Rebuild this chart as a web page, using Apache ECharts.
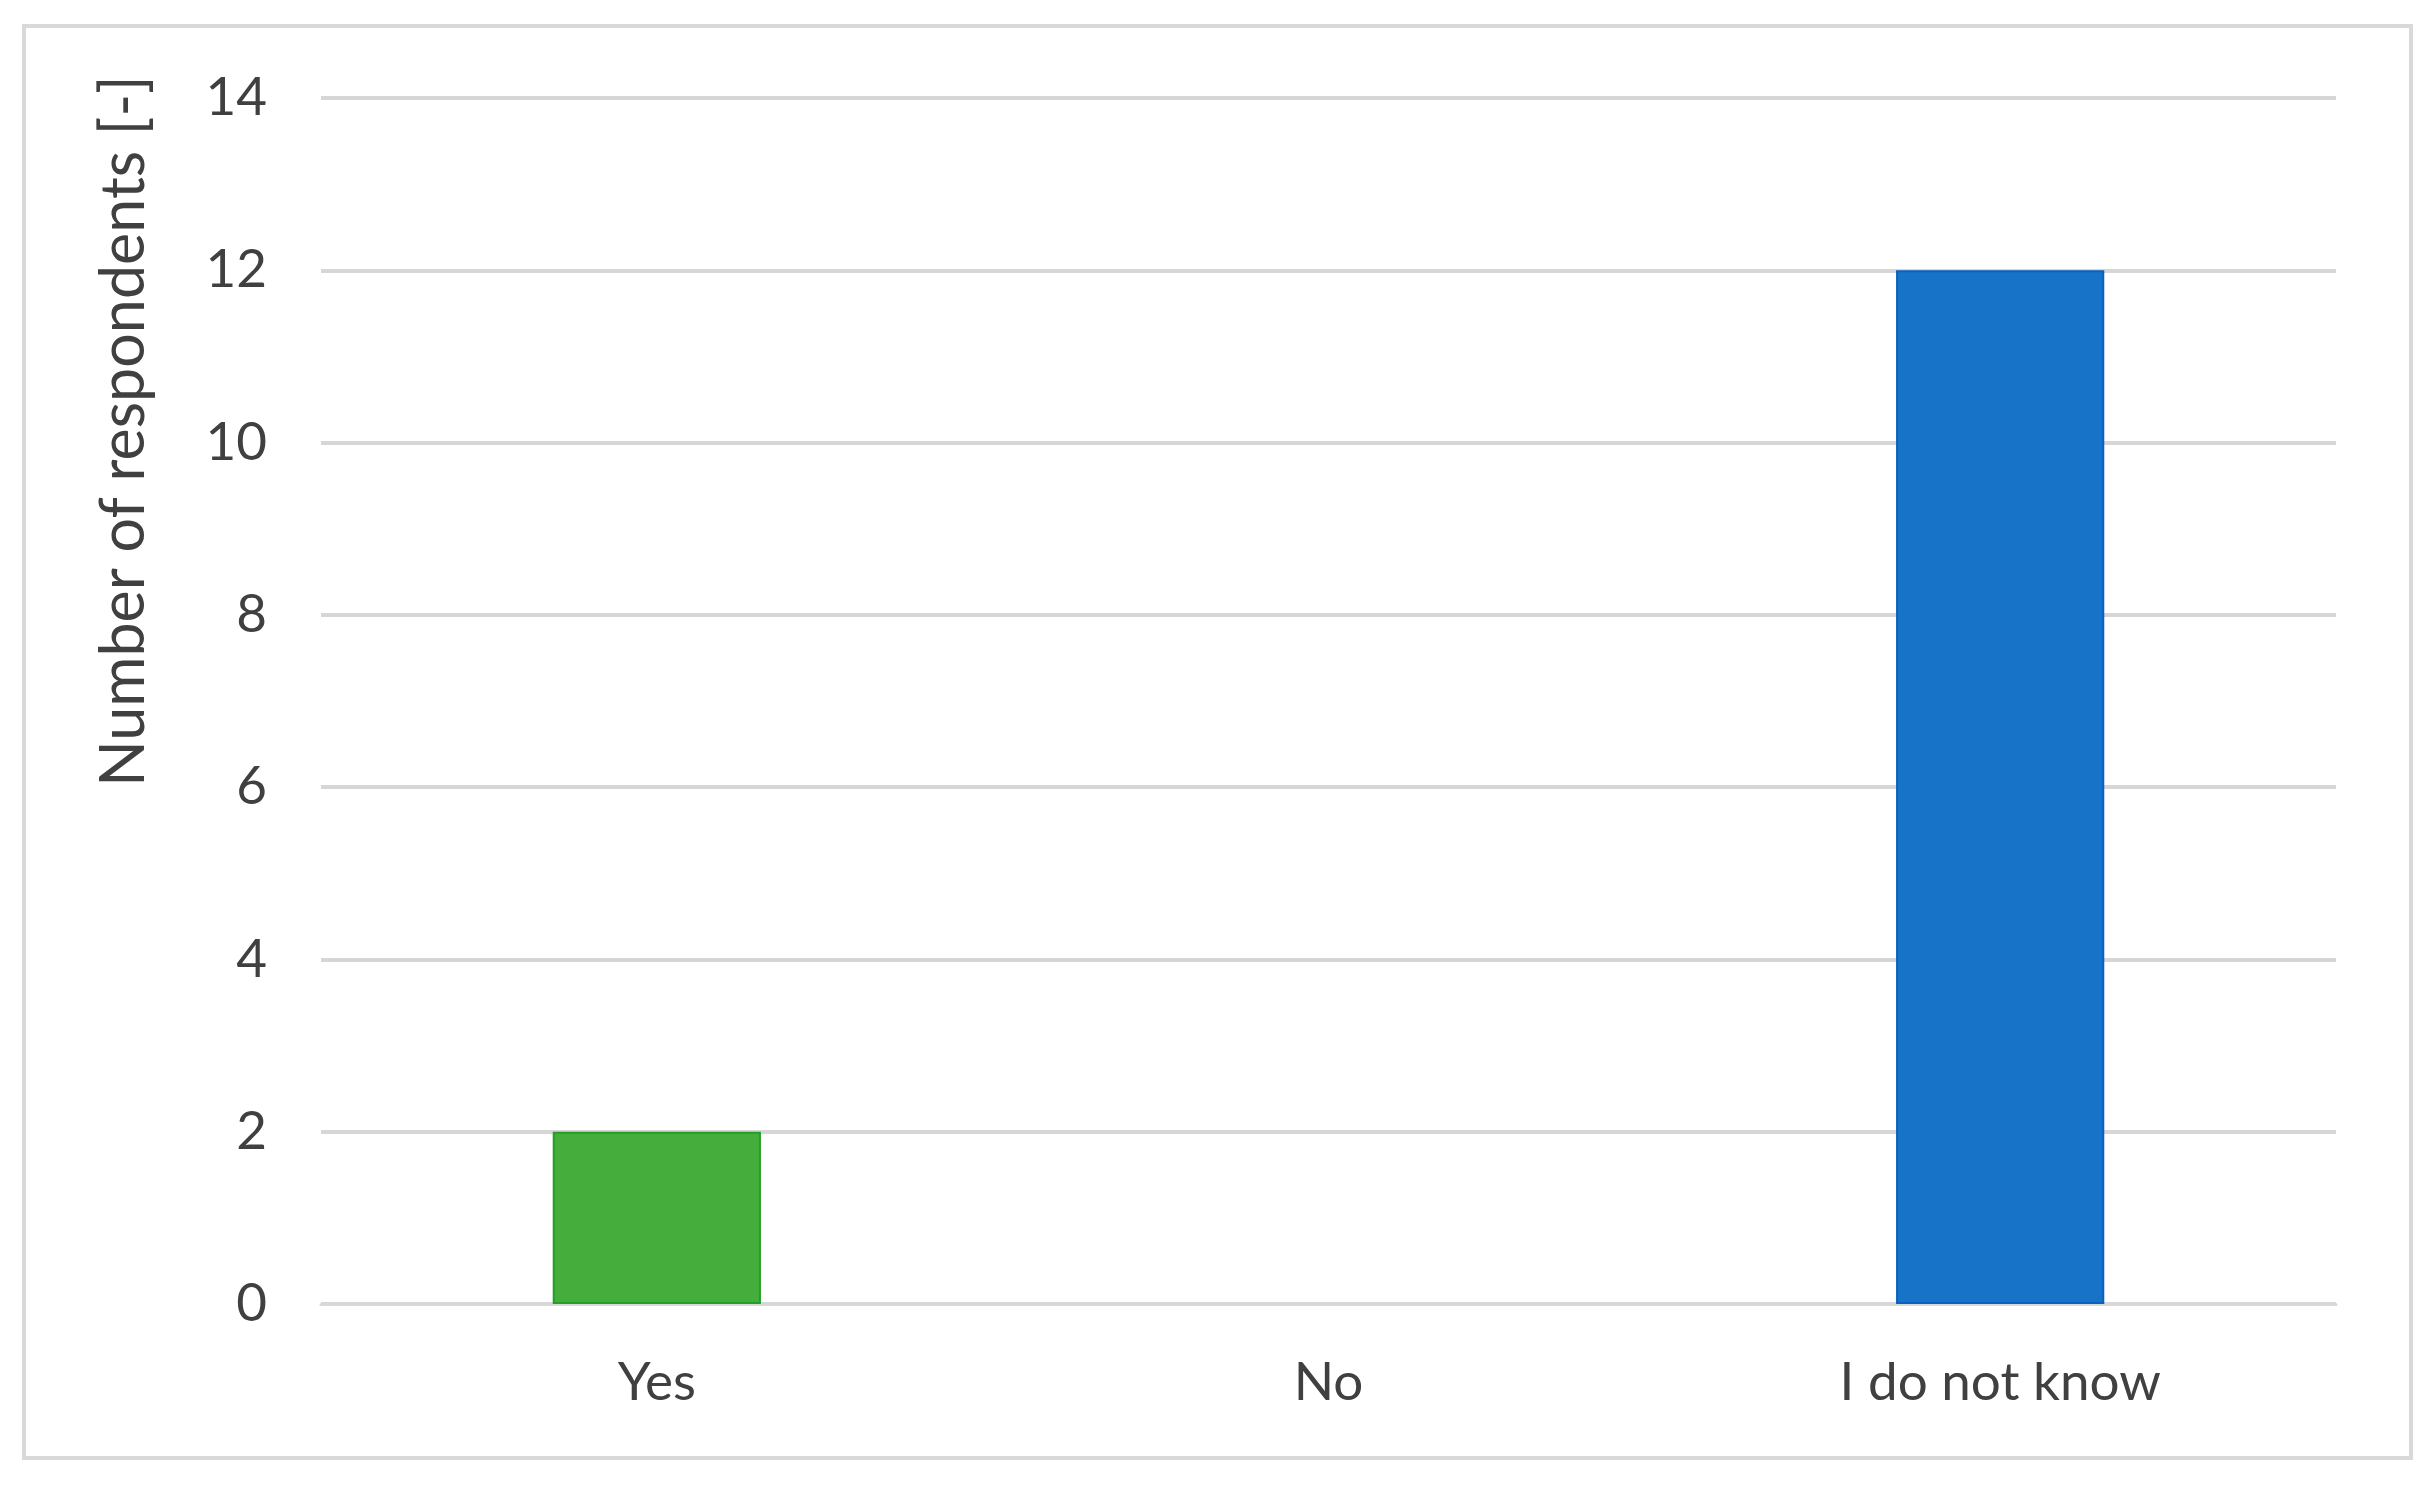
<!DOCTYPE html>
<html>
<head>
<meta charset="utf-8">
<script src="https://cdn.jsdelivr.net/npm/echarts@6/dist/echarts.min.js"></script>
<style>
  html, body { margin: 0; padding: 0; background: #fff; }
  #chart { width: 2434px; height: 1491px; }
</style>
</head>
<body>
<div id="chart"></div>
<script>
// data
const categories = ['Yes', 'No', 'I do not know'];
const respondents = [2, 0, 12];
const barColors = ['#45ad3b', '#9e9e9e', '#1773c8'];
const barBorders = ['#22a022', '#9e9e9e', '#0a60c0'];
const yTicks = [0, 2, 4, 6, 8, 10, 12, 14];

const textColor = '#404040';
const fontFamily = 'Lato, "Open Sans", sans-serif';

const chart = echarts.init(document.getElementById('chart'));

const option = {
  backgroundColor: '#fff',
  animation: false,
  grid: {
    left: 321,
    right: 98,
    top: 98,
    bottom: 187
  },
  xAxis: {
    type: 'category',
    data: categories,
    axisLine: {
      lineStyle: { color: '#d9d9d9', width: 3 }
    },
    axisTick: { show: false },
    axisLabel: {
      color: textColor,
      fontSize: 53,
      fontFamily: fontFamily,
      margin: 52
    }
  },
  yAxis: {
    type: 'value',
    min: yTicks[0],
    max: yTicks[yTicks.length - 1],
    interval: 2,
    axisLine: { show: false },
    axisTick: { show: false },
    axisLabel: {
      color: textColor,
      fontSize: 53,
      fontFamily: fontFamily,
      margin: 54
    },
    splitLine: {
      lineStyle: { color: '#d6d6d6', width: 4 }
    }
  },
  series: [{
    type: 'bar',
    barWidth: '31%',
    data: respondents.map(function (v, i) {
      return {
        value: v,
        itemStyle: {
          color: barColors[i],
          borderColor: barBorders[i],
          // a zero bar would otherwise show as a thin line
          borderWidth: v > 0 ? 2 : 0,
          opacity: v > 0 ? 1 : 0
        }
      };
    })
  }],
  graphic: [
    {
      type: 'rect',
      shape: { x: 24, y: 26, width: 2387, height: 1432 },
      style: { fill: 'none', stroke: '#d9d9d9', lineWidth: 4 },
      z: -1
    },
    {
      type: 'text',
      x: 124,
      y: 431,
      rotation: Math.PI / 2,
      style: {
        text: 'Number of respondents [-]',
        fill: textColor,
        font: '61px ' + fontFamily,
        align: 'center',
        verticalAlign: 'middle'
      }
    }
  ]
};

chart.setOption(option);
window.addEventListener('resize', function () {
  chart.resize();
});
</script>
</body>
</html>
